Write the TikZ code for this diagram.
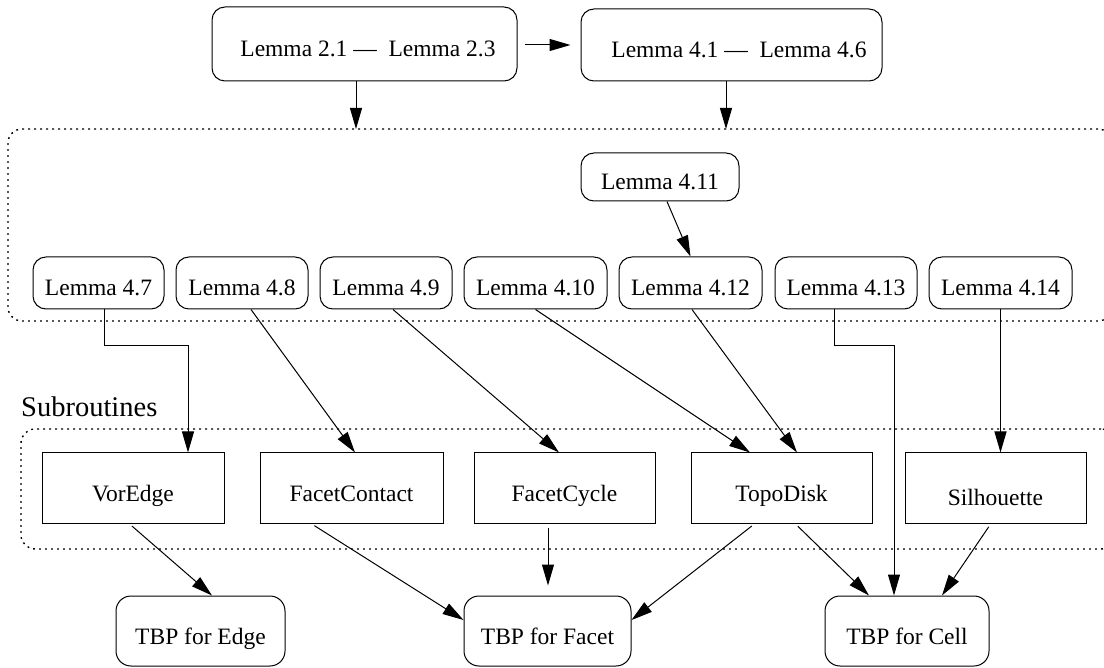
\documentclass[tikz,border=0pt]{standalone}
\usepackage{fontspec}
\setmainfont{Liberation Serif}
\newfontfamily\lserif{Liberation Serif}
\usetikzlibrary{arrows.meta}
\begin{document}
\begin{tikzpicture}[x=1pt,y=-1pt,
  every node/.style={font=\lserif\fontsize{23.5}{28}\selectfont, inner sep=0pt, text height=26pt, text depth=0pt},
  rbox/.style={draw, rounded corners=13pt, line width=1pt},
  sbox/.style={draw, line width=1pt, minimum width=181pt, minimum height=70pt},
  lem/.style={rbox, minimum height=52pt},
  tbp/.style={rbox, minimum height=70pt, rounded corners=15pt},
  arr/.style={-{Triangle[length=21pt,width=12pt]}, line width=1pt},
  grp/.style={draw, dash pattern=on 1.8pt off 4.2pt, rounded corners=14pt, line width=1.4pt}]
\useasboundingbox (0,0) rectangle (1104,668);

% groups
\node[grp, minimum width=1104pt, minimum height=192pt] (G1) at (560,225) {};
\node[grp, minimum width=1094pt, minimum height=120pt] (G2) at (568,489) {};
\node[anchor=base west, font=\lserif\fontsize{28.5}{34}\selectfont] (sub) at (21,417) {Subroutines};

% top
\node[rbox, minimum width=305pt, minimum height=74pt] (L21) at (364.5,44) {\hspace*{7pt}Lemma 2.1 —\ \ Lemma 2.3};
\node[rbox, minimum width=301pt, minimum height=72pt] (L41) at (731.5,45) {\hspace*{15pt}Lemma 4.1 —\ \ Lemma 4.6};

% lemma row
\node[lem, minimum width=158pt, minimum height=48pt] (L411) at (660,177) {Lemma 4.11};
\node[lem, minimum width=131pt] (L47) at (98.5,283) {Lemma 4.7};
\node[lem, minimum width=132pt] (L48) at (242,283) {Lemma 4.8};
\node[lem, minimum width=132pt] (L49) at (386,283) {Lemma 4.9};
\node[lem, minimum width=143pt] (L410) at (535.5,283) {Lemma 4.10};
\node[lem, minimum width=143pt] (L412) at (690.5,283) {Lemma 4.12};
\node[lem, minimum width=142pt] (L413) at (846,283) {Lemma 4.13};
\node[lem, minimum width=143pt] (L414) at (1000.5,283) {Lemma 4.14};

% subroutines
\node[sbox, minimum width=182pt] (VE) at (133,488) {VorEdge};
\node[sbox, minimum width=183pt] (FC) at (351.5,488) {FacetContact};
\node[sbox] (FY) at (564.5,488) {FacetCycle};
\node[sbox] (TD) at (781.5,488) {TopoDisk};
\node[sbox] (SH) at (995.5,488) {\raisebox{-4pt}{Silhouette}};

% TBP
\node[tbp, minimum width=169pt] (TE) at (200.5,631) {TBP for Edge};
\node[tbp, minimum width=167pt] (TF) at (547.5,631) {TBP for Facet};
\node[tbp, minimum width=164pt] (TC) at (907,631) {TBP for Cell};

% connectors top
\coordinate (g1a) at (356,129);
\coordinate (g1b) at (726,129);
\draw[arr, shorten <=7pt, shorten >=10pt] (L21.east |- 0,45) -- (L41.west |- 0,45);
\draw[arr] (L21.south -| g1a) -- (g1a);
\draw[arr] (L41.south -| g1b) -- (g1b);
\draw[arr] ([xshift=7pt]L411.south) -- (L412.north);

% lemma -> subroutines
\draw[arr] ([xshift=5.5pt]L47.south) -- ++(0,36) -| ([xshift=55pt]VE.north);
\draw[arr] ([xshift=9pt]L48.south) -- ([xshift=3.5pt]FC.north);
\draw[arr] ([xshift=7pt]L49.south) -- ([xshift=-5.5pt]FY.north);
\draw[arr] (L410.south) -- ([xshift=-31.5pt]TD.north);
\draw[arr] ([xshift=1.5pt]L412.south) -- ([xshift=15.5pt]TD.north);
\draw[arr] ([xshift=-12pt]L413.south) -- ++(0,36) -| ([xshift=-13pt]TC.north);
\draw[arr] (L414.south) -- (L414.south |- SH.north);

% subroutines -> TBP
\draw[arr, shorten <=4pt] ([xshift=-4pt]VE.south) -- ([xshift=11.5pt]TE.north);
\draw[arr, shorten <=4pt] ([xshift=-40.5pt]FC.south) -- ([yshift=11pt]TF.west);
\draw[arr, shorten <=4pt, shorten >=10pt] ([xshift=-16.5pt]FY.south) -- ([xshift=-16.5pt]FY.south |- TF.north);
\draw[arr, shorten <=4pt] ([xshift=-26.5pt]TD.south) -- ([yshift=11pt]TF.east);
\draw[arr, shorten <=4pt] ([xshift=13.5pt]TD.south) -- ([xshift=-38pt]TC.north);
\draw[arr, shorten <=4pt] ([xshift=-4.5pt]SH.south) -- ([xshift=35pt]TC.north);
\end{tikzpicture}
\end{document}
